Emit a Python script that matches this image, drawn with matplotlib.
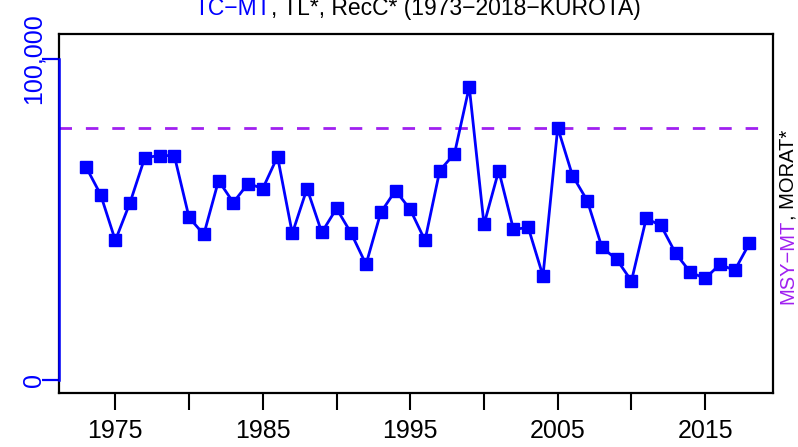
import matplotlib
matplotlib.use("Agg")
import matplotlib.pyplot as plt
import matplotlib.transforms as mtransforms

plt.rcParams['font.family'] = ['Liberation Sans', 'DejaVu Sans']

# 年別漁獲量 (トン)
years = list(range(1973, 2019))
catch = [66550, 57860, 43570, 55370, 69350, 69970, 69970, 50710, 45430, 62200,
         55370, 61270, 59720, 69660, 45750, 59720, 46060, 53510, 45750, 36120,
         52270, 59100, 53200, 43570, 65310, 70590, 91400, 48540, 65310, 46990,
         47610, 32520, 78660, 63760, 55990, 41400, 37670, 30960, 50400, 48230,
         39530, 33630, 31770, 36120, 34250, 42640]
msy = 78700

xticks = [1975, 1980, 1985, 1990, 1995, 2000, 2005, 2010, 2015]
xticklabels = ["1975", "", "1985", "", "1995", "", "2005", "", "2015"]
yticks = [0, 100000]
yticklabels = ["0", "100,000"]

BLUE = "#0000FF"
PURPLE = "#A020F0"
FS = 18
FS_RIGHT = 14.5

fig = plt.figure(figsize=(7.98, 4.47), dpi=100)
ax = fig.add_axes([0.0743, 0.1208, 0.8944, 0.8031])

ax.plot(years, catch, color=BLUE, lw=2, marker="s", ms=8.6, mec=BLUE, mfc=BLUE, zorder=3)
ax.axhline(msy, color=PURPLE, lw=2, ls=(0, (4.5, 5)), zorder=2)

ax.set_xlim(1971.2, 2019.6)
ax.set_ylim(-3900, 107800)

for s in ax.spines.values():
    s.set_linewidth(1.6)
    s.set_color("black")

ax.set_xticks(xticks)
ax.set_xticklabels(xticklabels, fontsize=FS)
ax.tick_params(axis="x", length=12, width=1.5, pad=7)

ax.set_yticks(yticks)
ax.set_yticklabels(yticklabels, fontsize=FS, color=BLUE, rotation=90, va="center")
ax.tick_params(axis="y", length=12, width=1.6, color=BLUE, pad=-2.5)

# 左の青い軸線 (0〜100,000)
trans = mtransforms.blended_transform_factory(ax.transAxes, ax.transData)
ax.plot([0, 0], [0, 100000], color=BLUE, lw=1.8, transform=trans, clip_on=False, zorder=5)

# タイトル (色分け)
fig.canvas.draw()
renderer = fig.canvas.get_renderer()
full = fig.text(0.5215, 1 - 15 / 447, "TC−MT, TL*, RecC* (1973−2018−KUROTA)",
                fontsize=16.5, ha="center", va="baseline", alpha=0)
bb = full.get_window_extent(renderer)
x0 = bb.x0 / fig.bbox.width
t1 = fig.text(x0, 1 - 15 / 447, "TC−MT", fontsize=16.5, color=BLUE, ha="left", va="baseline")
fig.canvas.draw()
t2 = ax.annotate(", TL*, RecC* (1973−2018−KUROTA)", xy=(1, 0), xycoords=t1,
                 fontsize=16.5, color="black", ha="left", va="bottom", annotation_clip=False)

# 右側ラベル
r1 = fig.text(797 / 798, 1 - 218 / 447, "MSY−MT, MORAT*", fontsize=FS_RIGHT, rotation=90,
              ha="right", va="center", alpha=0)
fig.canvas.draw()
rb = r1.get_window_extent(renderer)
r2 = fig.text(rb.x0 / fig.bbox.width, rb.y0 / fig.bbox.height, "MSY−MT", fontsize=FS_RIGHT,
              rotation=90, color=PURPLE, ha="left", va="bottom")
fig.canvas.draw()
ax.annotate(", MORAT*", xy=(0, 1), xycoords=r2, fontsize=FS_RIGHT, rotation=90,
            color="black", ha="left", va="bottom", annotation_clip=False)

fig.savefig("out.png", dpi=100)
